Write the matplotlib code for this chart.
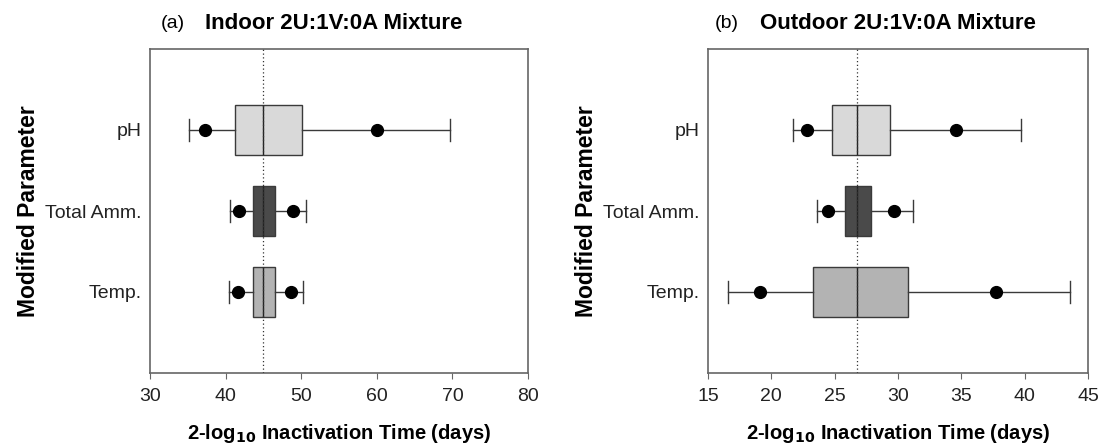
import matplotlib
matplotlib.use('Agg')
import matplotlib.pyplot as plt

plt.rcParams['font.family'] = ['Liberation Sans', 'DejaVu Sans']

params = ['pH', 'Total Amm.', 'Temp.']
ypos = [3, 2, 1]
fills = ['#d9d9d9', '#4a4a4a', '#b3b3b3']

# indoor: whisker lo, p5, q1, median, q3, p95, whisker hi
indoor_lo = [35.2, 40.6, 40.5]
indoor_p5 = [37.3, 41.8, 41.7]
indoor_q1 = [41.2, 43.6, 43.6]
indoor_med = [45.0, 45.0, 45.0]
indoor_q3 = [50.1, 46.6, 46.5]
indoor_p95 = [60.0, 48.9, 48.6]
indoor_hi = [69.7, 50.7, 50.3]

# outdoor
outdoor_lo = [21.7, 23.6, 16.6]
outdoor_p5 = [22.8, 24.45, 19.1]
outdoor_q1 = [24.8, 25.8, 23.3]
outdoor_med = [26.8, 26.8, 26.8]
outdoor_q3 = [29.4, 27.9, 30.8]
outdoor_p95 = [34.6, 29.7, 37.7]
outdoor_hi = [39.7, 31.15, 43.6]

indoor_ref = 45.0
outdoor_ref = 26.8


def make_stats(lo, p5, q1, med, q3, p95, hi):
    stats = []
    for i in range(len(params)):
        stats.append(dict(whislo=lo[i], q1=q1[i], med=med[i], q3=q3[i],
                          whishi=hi[i], fliers=[p5[i], p95[i]]))
    return stats


def draw_panel(ax, stats, ref, xlim, xticks):
    edge = '#3a3a3a'
    bp = ax.bxp(stats, positions=ypos, widths=0.62, capwidths=0.28,
                orientation='horizontal', patch_artist=True,
                boxprops=dict(edgecolor=edge, linewidth=1.0),
                medianprops=dict(color='#222222', linewidth=1.0),
                whiskerprops=dict(color=edge, linewidth=1.0),
                capprops=dict(color=edge, linewidth=1.0),
                flierprops=dict(marker='o', markerfacecolor='black',
                                markeredgecolor='black', markersize=8.5),
                zorder=2)
    for patch, c in zip(bp['boxes'], fills):
        patch.set_facecolor(c)
    ax.axvline(ref, color='#333333', linestyle=(0, (1, 2)), linewidth=0.9, zorder=3)
    ax.set_xlim(xlim)
    ax.set_ylim(0, 4)
    ax.set_xticks(xticks)
    ax.set_yticks(ypos)
    ax.set_yticklabels(params)
    ax.tick_params(axis='y', length=0, labelsize=14, pad=6, labelcolor='#222222')
    ax.tick_params(axis='x', length=4, labelsize=14, color='#666666', direction='out',
                   pad=7, labelcolor='#222222')
    for s in ax.spines.values():
        s.set_color('#666666')
        s.set_linewidth(1.2)
    ax.set_xlabel('2-log$_{\\mathbf{10}}$ Inactivation Time (days)', fontsize=14.5,
                  fontweight='bold', labelpad=12)
    ax.set_ylabel('Modified Parameter', fontsize=16.5, fontweight='bold', labelpad=4)


fig = plt.figure(figsize=(10.99, 4.47), dpi=100)
ax1 = fig.add_axes([150 / 1099, 1 - 373 / 447, 378 / 1099, 324 / 447])
ax2 = fig.add_axes([708 / 1099, 1 - 373 / 447, 380 / 1099, 324 / 447])

draw_panel(ax1, make_stats(indoor_lo, indoor_p5, indoor_q1, indoor_med,
                           indoor_q3, indoor_p95, indoor_hi),
           indoor_ref, (30, 80), [30, 40, 50, 60, 70, 80])
draw_panel(ax2, make_stats(outdoor_lo, outdoor_p5, outdoor_q1, outdoor_med,
                           outdoor_q3, outdoor_p95, outdoor_hi),
           outdoor_ref, (15, 45), [15, 20, 25, 30, 35, 40, 45])

fig.text(161 / 1099, 0.948, '(a)', fontsize=14, va='center', ha='left')
fig.text(205 / 1099, 0.948, 'Indoor 2U:1V:0A Mixture', fontsize=16,
         fontweight='bold', va='center', ha='left')
fig.text(715 / 1099, 0.948, '(b)', fontsize=14, va='center', ha='left')
fig.text(760 / 1099, 0.948, 'Outdoor 2U:1V:0A Mixture', fontsize=16,
         fontweight='bold', va='center', ha='left')

fig.savefig('out.png', dpi=100)
